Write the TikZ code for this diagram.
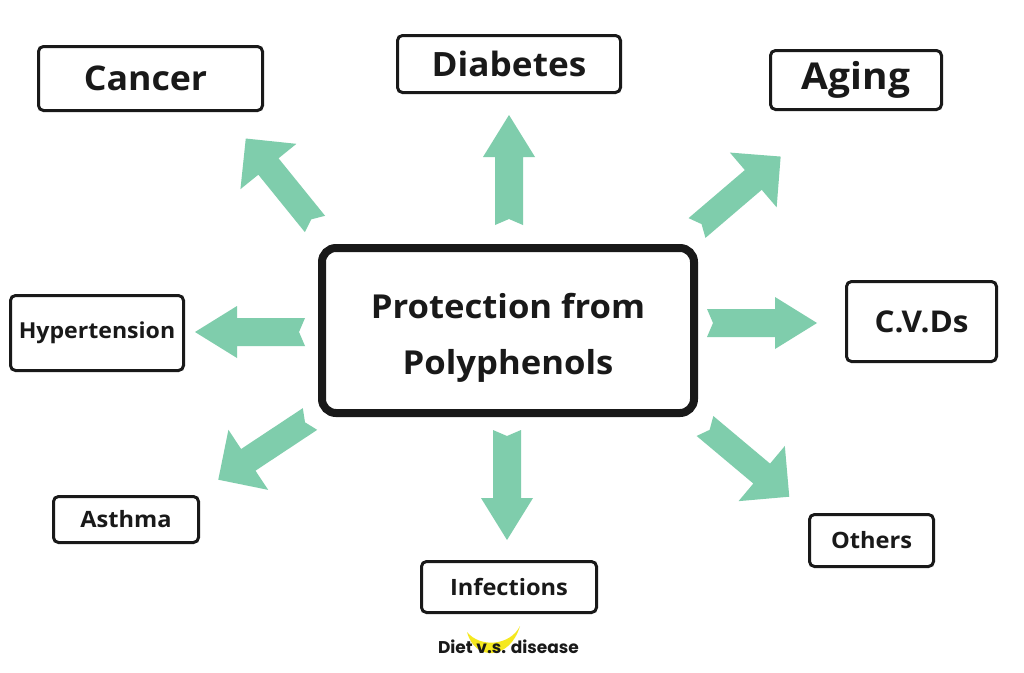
\documentclass[tikz,border=0pt]{standalone}
\usepackage{fontspec}
\setmainfont{Open Sans}[FakeStretch=1.05]
\newfontfamily\logofont{Poppins}
\begin{document}
\begin{tikzpicture}[x=1pt,y=-1pt,
  box/.style={draw=black!90, line width=3pt, rounded corners=5pt, fill=white,
    inner sep=0pt, align=center, font=\bfseries, text=black!90},
  mainbox/.style={draw=black!90, line width=8pt, rounded corners=14pt, fill=white,
    inner sep=0pt, align=center, text=black!90},
  pics/sarrow/.style={code={
    \fill[arrowgreen] (0,-14) -- (68,-14) -- (68,-26) -- (110,0) -- (68,26) -- (68,14) -- (0,14) -- (6,0) -- cycle;}},
  pics/darrow/.style={code={
    \fill[arrowgreen] (0,-13) -- (74,-13) -- (74,-36) -- (110,0) -- (74,36) -- (74,13) -- (0,13) -- (6,0) -- cycle;}}
]
\definecolor{arrowgreen}{RGB}{127,205,172}
\definecolor{logoyellow}{RGB}{245,232,30}
\useasboundingbox[fill=white] (0,0) rectangle (1024,672);

% center
\node[mainbox, minimum width=372pt, minimum height=165pt,
  font=\fontsize{33}{56}\selectfont\bfseries] (center) at (508,330.5)
  {\raisebox{-5pt}[\height][\depth]{\begin{tabular}{@{}c@{}}Protection from\\Polyphenols\end{tabular}}};

% outer boxes
\node[box, minimum width=224pt, minimum height=64pt, font=\fontsize{34}{40}\selectfont\bfseries] (cancer) at (150.5,78.5) {\hspace*{-10pt}Cancer};
\node[box, minimum width=223pt, minimum height=57pt, font=\fontsize{33.5}{40}\selectfont\bfseries] (diabetes) at (509,64) {Diabetes};
\node[box, minimum width=171pt, minimum height=59pt, font=\fontsize{37}{42}\selectfont\bfseries] (aging) at (856,80) {Aging};
\node[box, minimum width=173pt, minimum height=75pt, font=\fontsize{22}{28}\selectfont\bfseries] (hyper) at (97,333) {Hypertension};
\node[box, minimum width=150pt, minimum height=80pt, font=\fontsize{30}{34}\selectfont\bfseries] (cvd) at (921.5,321.5) {C.V.Ds};
\node[box, minimum width=145pt, minimum height=46pt, font=\fontsize{22.5}{26}\selectfont\bfseries] (asthma) at (126,519.5) {Asthma};
\node[box, minimum width=175pt, minimum height=51pt, font=\fontsize{22.5}{26}\selectfont\bfseries] (infect) at (509,587) {Infections};
\node[box, minimum width=124pt, minimum height=52pt, font=\fontsize{22.5}{26}\selectfont\bfseries] (others) at (871.5,540.5) {Others};

% arrow tails
\coordinate (tDiab) at (509,225);
\coordinate (tCanc) at (315,224);
\coordinate (tAging) at (697,228);
\coordinate (tCvd) at (707,323);
\coordinate (tHyp) at (305,332);
\coordinate (tAst) at (310,419);
\coordinate (tInf) at (507,430);
\coordinate (tOth) at (705,426);

\pic[rotate=90] at (tDiab) {sarrow};
\pic[rotate=129] at (tCanc) {darrow};
\pic[rotate=40.5] at (tAging) {darrow};
\pic[rotate=0] at (tCvd) {sarrow};
\pic[rotate=180] at (tHyp) {sarrow};
\pic[rotate=213.5] at (tAst) {darrow};
\pic[rotate=270] at (tInf) {sarrow};
\pic[rotate=-40] at (tOth) {darrow};

% logo
\fill[logoyellow] (467,632) .. controls (475,662) and (510,660) .. (520,626)
  .. controls (510,646) and (480,648) .. cycle;
\node[font=\logofont\fontsize{17}{20}\selectfont\bfseries, text=black!90, inner sep=0pt] (logo) at (508.5,647) {Diet v.s. disease};
\end{tikzpicture}
\end{document}
